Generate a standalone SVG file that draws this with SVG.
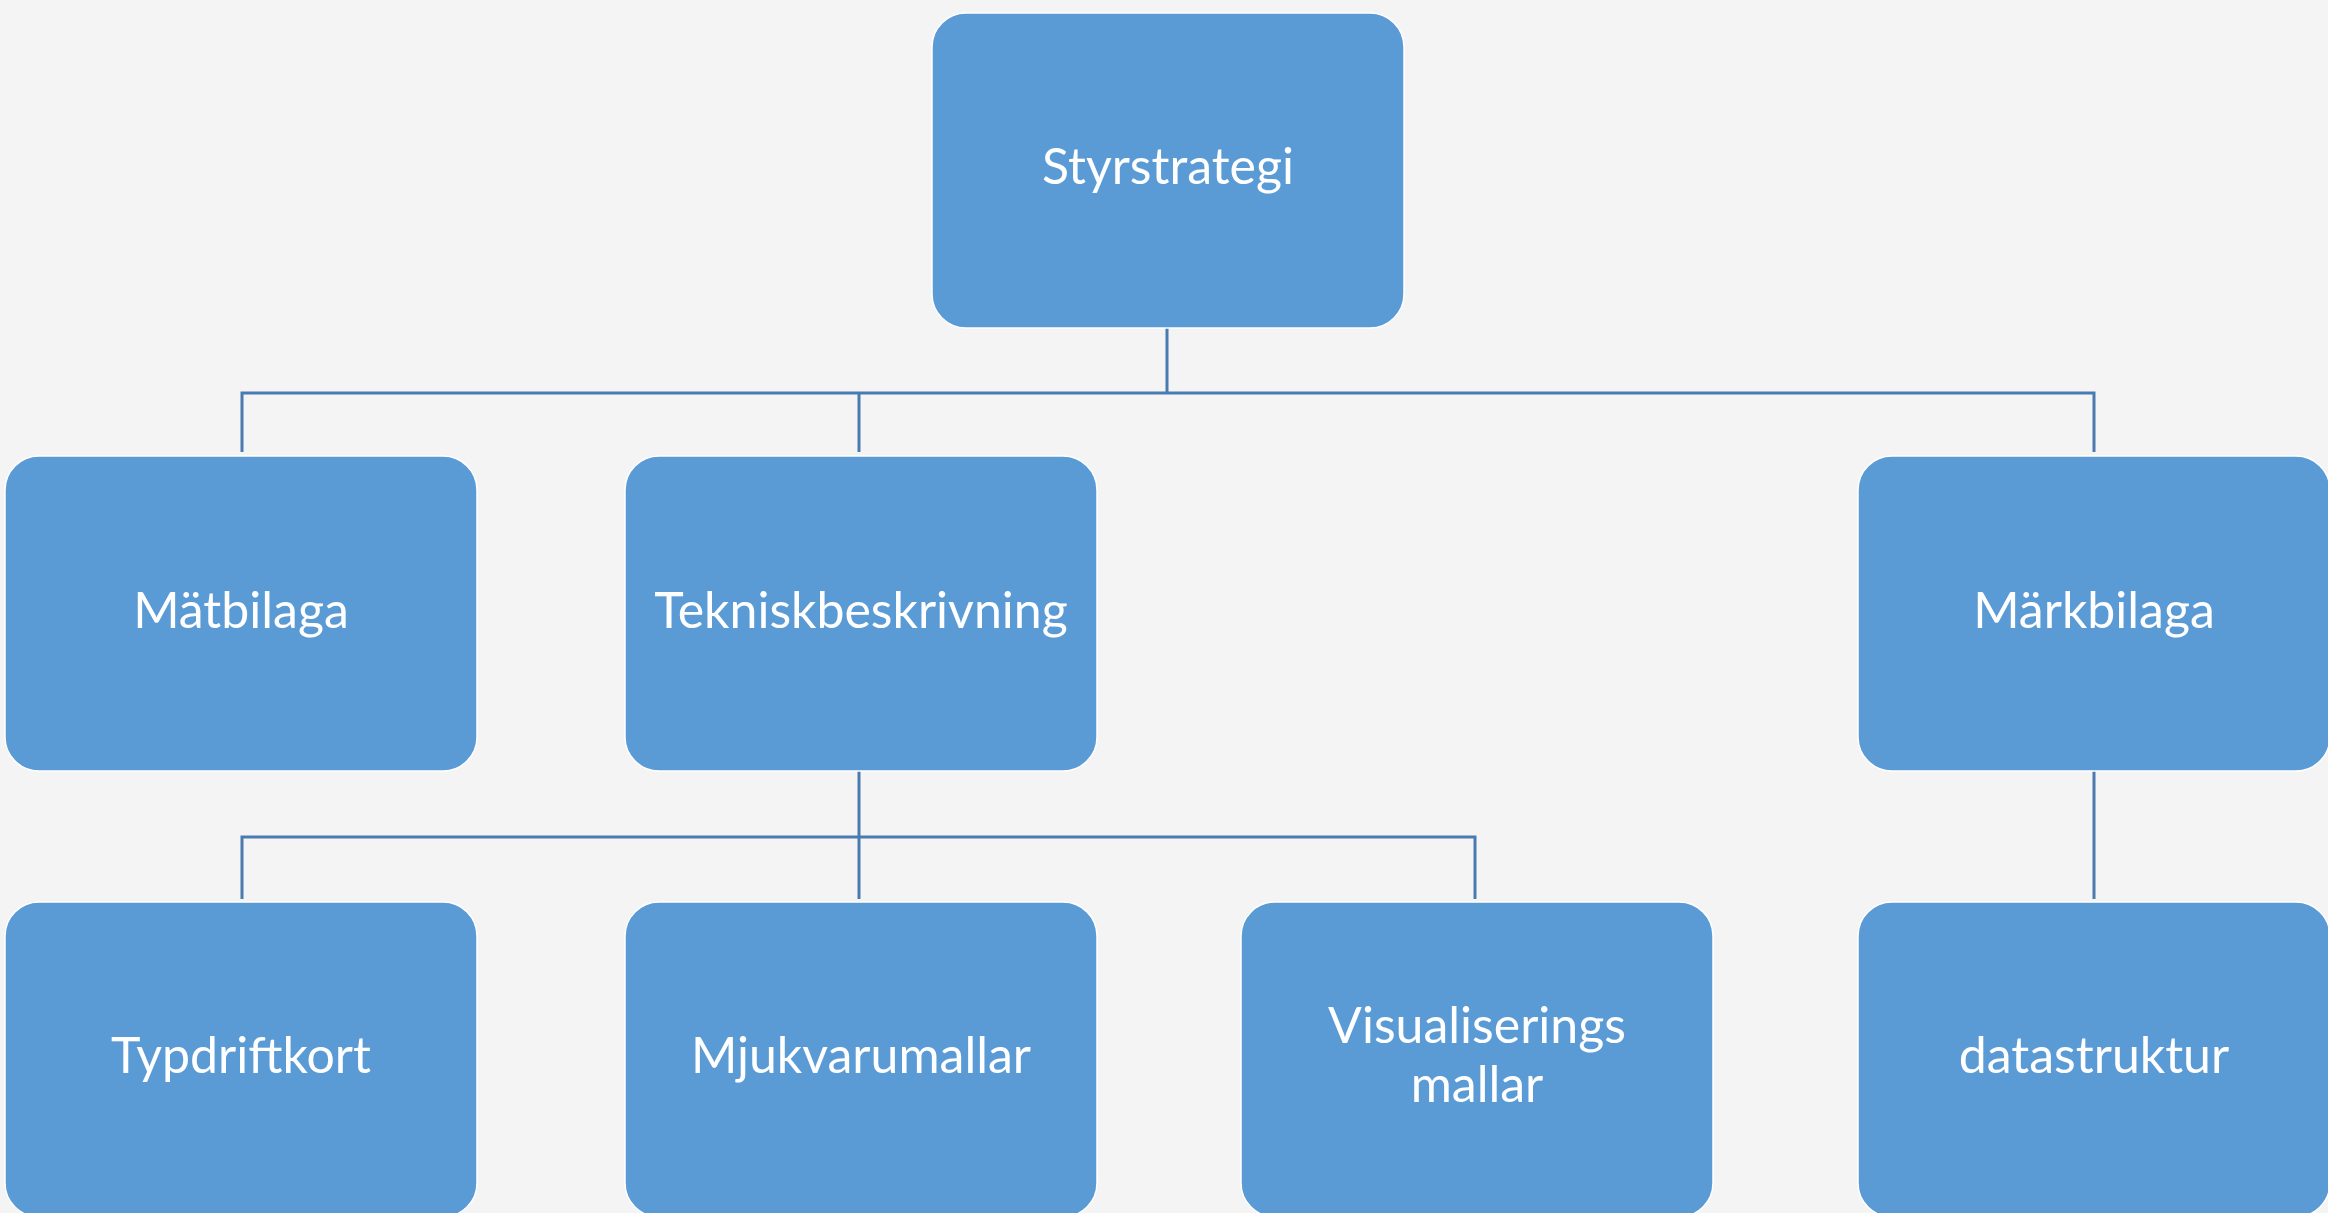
<svg xmlns="http://www.w3.org/2000/svg" width="2328" height="1213" viewBox="0 0 2328 1213">
<style>
.box{fill:#5b9bd5;stroke:#ffffff;stroke-width:1.5}
.lbl{font-family:Lato,"Open Sans","Liberation Sans",sans-serif;font-size:50px;fill:#ffffff;text-anchor:middle}
.con{fill:none;stroke:#4a7bb0;stroke-width:3}
</style>
<rect x="0" y="0" width="2328" height="1213" fill="#f4f4f4"/>
<g id="connectors">
<path class="con" d="M1167,328 V393 M242,452 V393 H2094 V452 M859,393 V452"/>
<path class="con" d="M859,771 V899 M242,899 V837 H1475 V899"/>
<path class="con" d="M2094,771 V899"/>
</g>
<g id="n-styrstrategi"><rect class="box" x="932" y="13" width="472" height="315" rx="34"/><text class="lbl" x="1168" y="184">Styrstrategi</text></g>
<g id="n-matbilaga"><rect class="box" x="5" y="456" width="472" height="315" rx="34"/><text class="lbl" x="241" y="628">Mätbilaga</text></g>
<g id="n-tekniskbeskrivning"><rect class="box" x="625" y="456" width="472" height="315" rx="34"/><text class="lbl" x="861" y="628">Tekniskbeskrivning</text></g>
<g id="n-markbilaga"><rect class="box" x="1858" y="456" width="472" height="315" rx="34"/><text class="lbl" x="2094" y="628">Märkbilaga</text></g>
<g id="n-typdriftkort"><rect class="box" x="5" y="902" width="472" height="315" rx="34"/><text class="lbl" x="241" y="1073">Typdriftkort</text></g>
<g id="n-mjukvarumallar"><rect class="box" x="625" y="902" width="472" height="315" rx="34"/><text class="lbl" x="861" y="1073">Mjukvarumallar</text></g>
<g id="n-visualiserings"><rect class="box" x="1241" y="902" width="472" height="315" rx="34"/><text class="lbl" x="1477" y="1043">Visualiserings</text><text class="lbl" x="1477" y="1102">mallar</text></g>
<g id="n-datastruktur"><rect class="box" x="1858" y="902" width="472" height="315" rx="34"/><text class="lbl" x="2094" y="1073">datastruktur</text></g>
</svg>
